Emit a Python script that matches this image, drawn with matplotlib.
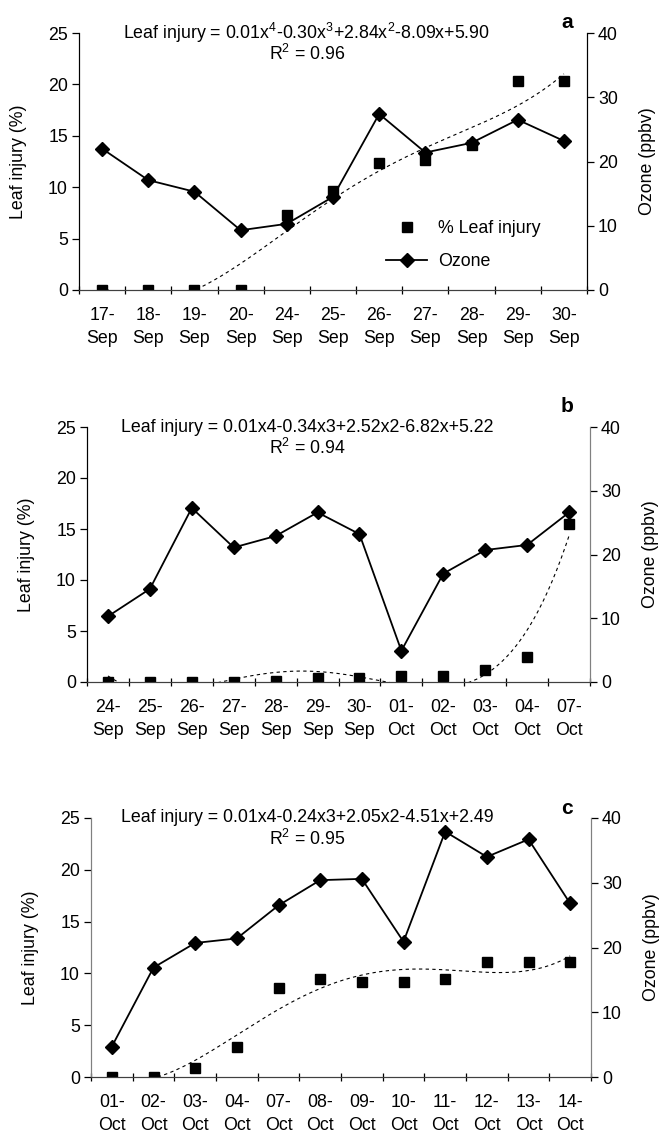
import numpy as np
import matplotlib.pyplot as plt

plt.rcParams['font.family'] = ['Liberation Sans', 'DejaVu Sans']
plt.rcParams['mathtext.default'] = 'regular'

# panel a
dates_a = ['17-\nSep', '18-\nSep', '19-\nSep', '20-\nSep', '24-\nSep', '25-\nSep',
           '26-\nSep', '27-\nSep', '28-\nSep', '29-\nSep', '30-\nSep']
leaf_a = [0, 0, 0, 0, 7.3, 9.6, 12.4, 12.6, 14.1, 20.3, 20.3]
ozone_a = [22.0, 17.1, 15.3, 9.3, 10.3, 14.5, 27.4, 21.4, 22.9, 26.5, 23.2]

# panel b
dates_b = ['24-\nSep', '25-\nSep', '26-\nSep', '27-\nSep', '28-\nSep', '29-\nSep',
           '30-\nSep', '01-\nOct', '02-\nOct', '03-\nOct', '04-\nOct', '07-\nOct']
leaf_b = [0, 0, 0, 0, 0.1, 0.4, 0.4, 0.6, 0.55, 1.2, 2.5, 15.5]
ozone_b = [10.3, 14.6, 27.3, 21.1, 22.9, 26.6, 23.2, 4.9, 17.0, 20.7, 21.5, 26.6]

# panel c
dates_c = ['01-\nOct', '02-\nOct', '03-\nOct', '04-\nOct', '07-\nOct', '08-\nOct',
           '09-\nOct', '10-\nOct', '11-\nOct', '12-\nOct', '13-\nOct', '14-\nOct']
leaf_c = [0, 0, 0.85, 2.9, 8.6, 9.5, 9.2, 9.2, 9.5, 11.1, 11.1, 11.1]
ozone_c = [4.7, 16.9, 20.7, 21.4, 26.5, 30.4, 30.6, 20.9, 37.9, 34.0, 36.7, 26.8]

eq_a = 'Leaf injury = 0.01x$^4$-0.30x$^3$+2.84x$^2$-8.09x+5.90'
eq_b = 'Leaf injury = 0.01x4-0.34x3+2.52x2-6.82x+5.22'
eq_c = 'Leaf injury = 0.01x4-0.24x3+2.05x2-4.51x+2.49'
r2 = ['R$^2$ = 0.96', 'R$^2$ = 0.94', 'R$^2$ = 0.95']

W, H = 661, 1135
fig = plt.figure(figsize=(W / 100, H / 100), dpi=100)
fs = 12.8

# box = left, right, top, bottom in pixels; letter_dy = px above the top
panels = [
    (dates_a, leaf_a, ozone_a, eq_a, r2[0], 'a', (79, 587, 33, 290), 11, 'black', 'black'),
    (dates_b, leaf_b, ozone_b, eq_b, r2[1], 'b', (87, 590, 427, 682), 20, 'black', '#808080'),
    (dates_c, leaf_c, ozone_c, eq_c, r2[2], 'c', (91, 591, 818, 1077), 10, '#808080', '#808080'),
]

for dates, leaf, ozone, eq, rr, letter, box, ldy, lcol, rcol in panels:
    l, r, t, b = box
    ax = fig.add_axes([l / W, 1 - b / H, (r - l) / W, (b - t) / H])
    ax2 = ax.twinx()
    n = len(dates)
    x = np.arange(1, n + 1)

    sq, = ax.plot(x, leaf, 's', color='black', markersize=7.5, zorder=3)
    coef = np.polyfit(x, leaf, 4)
    xx = np.linspace(1, n, 300)
    ax.plot(xx, np.polyval(coef, xx), color='black', lw=0.8,
            linestyle=(0, (3, 3)), zorder=2)
    oz, = ax2.plot(x, ozone, '-D', color='black', lw=1.3, markersize=7.5)

    ax.set_xlim(0.5, n + 0.5)
    ax.set_ylim(0, 25)
    ax2.set_ylim(0, 40)
    ax.set_yticks([0, 5, 10, 15, 20, 25])
    ax2.set_yticks([0, 10, 20, 30, 40])
    ax.set_xticks(x)
    ax.set_xticklabels(dates, linespacing=1.5)
    ax.set_xticks(np.arange(0.5, n + 1), minor=True)
    ax.tick_params(axis='x', which='major', length=0, pad=12, labelsize=fs)
    ax.tick_params(axis='x', which='minor', length=6, direction='inout', width=0.9)
    ax.tick_params(axis='y', length=5, width=0.9, labelsize=fs, pad=3)
    ax2.tick_params(axis='y', length=5, width=0.9, labelsize=fs, pad=3)

    for a in (ax, ax2):
        a.spines['top'].set_visible(False)
        a.spines['left'].set_color(lcol)
        a.spines['right'].set_color(rcol)
        a.spines['bottom'].set_color('#404040')
    ax.set_ylabel('Leaf injury (%)', fontsize=fs, labelpad=15)
    ax2.set_ylabel('Ozone (ppbv)', fontsize=fs, labelpad=15, rotation=90)

    cx = (307 - l) / (r - l)
    ax.text(cx, 1.0, eq, transform=ax.transAxes, ha='center', va='center', fontsize=fs)
    ax.text(cx, 1 - 21 / (b - t), rr, transform=ax.transAxes, ha='center',
            va='center', fontsize=fs)
    ax.text((567 - l) / (r - l), 1 + ldy / (b - t), letter, transform=ax.transAxes,
            ha='center', va='center', fontsize=15, fontweight='bold')

    if letter == 'a':
        ax.legend([sq, oz], ['% Leaf injury', 'Ozone'], frameon=False, fontsize=fs,
                  loc='lower right', bbox_to_anchor=(0.94, 0.015), handlelength=2.3,
                  labelspacing=0.9, handletextpad=0.6)

fig.savefig('out.png', dpi=100)
